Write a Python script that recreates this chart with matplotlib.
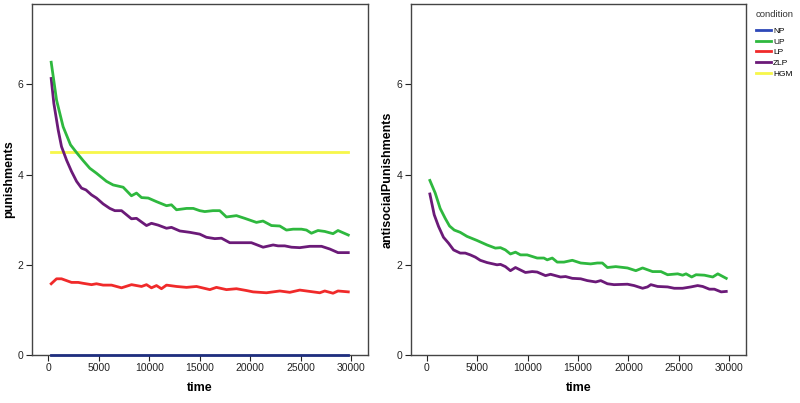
import matplotlib
matplotlib.use("Agg")
import matplotlib.pyplot as plt
from matplotlib.lines import Line2D

plt.rcParams['font.family'] = ['Liberation Sans', 'DejaVu Sans']

# ---- data ----
t_up_l = [300, 830, 1480, 2210, 2800, 3460, 4120, 4780, 5770, 6430, 7420, 8240, 8740, 9240, 9900,
          10720, 11710, 12200, 12700, 13700, 14360, 15000, 15500, 16300, 16980, 17640, 18630, 19450,
          20610, 21260, 22100, 22920, 23580, 24240, 25060, 25560, 26050, 26700, 27360, 28190, 28680, 29700]
up_l = [6.49, 5.65, 5.06, 4.66, 4.49, 4.31, 4.14, 4.03, 3.85, 3.77, 3.72, 3.53, 3.59, 3.49, 3.48,
        3.40, 3.31, 3.33, 3.22, 3.25, 3.25, 3.20, 3.18, 3.20, 3.20, 3.06, 3.09, 3.03,
        2.94, 2.97, 2.87, 2.86, 2.77, 2.79, 2.79, 2.77, 2.70, 2.76, 2.74, 2.69, 2.76, 2.66]

t_zlp_l = [300, 560, 990, 1320, 1820, 2310, 2810, 3300, 3740, 4290, 4780, 5440, 6100, 6600, 7260,
           8240, 8740, 9730, 10220, 10880, 11710, 12200, 13030, 14020, 15000, 15660, 16490, 17150,
           17970, 18960, 20110, 21270, 22260, 22750, 23410, 24080, 24900, 25890, 27050, 27870, 28680, 29700]
zlp_l = [6.13, 5.58, 4.99, 4.62, 4.32, 4.07, 3.85, 3.70, 3.66, 3.55, 3.48, 3.35, 3.25, 3.20, 3.20,
         3.02, 3.03, 2.87, 2.92, 2.88, 2.81, 2.83, 2.75, 2.72, 2.68, 2.61, 2.58, 2.59,
         2.49, 2.49, 2.49, 2.39, 2.44, 2.42, 2.42, 2.39, 2.38, 2.41, 2.41, 2.35, 2.27, 2.27]

t_lp_l = [300, 830, 1320, 2310, 2970, 3460, 4290, 4780, 5440, 6270, 7260, 8250, 9240, 9730, 10220,
          10720, 11210, 11710, 12700, 13690, 14680, 16000, 16650, 17640, 18630, 19620, 20280, 21600,
          22920, 23910, 24900, 25560, 26880, 27370, 28190, 28680, 29700]
lp_l = [1.58, 1.69, 1.69, 1.61, 1.61, 1.59, 1.56, 1.58, 1.55, 1.55, 1.49, 1.56, 1.52, 1.56, 1.49,
        1.54, 1.47, 1.55, 1.52, 1.50, 1.52, 1.45, 1.50, 1.45, 1.47, 1.43, 1.40, 1.38,
        1.42, 1.39, 1.44, 1.42, 1.38, 1.42, 1.37, 1.42, 1.40]

t_flat = [300, 29700]
hgm_l = [4.49, 4.49]
np_l = [0.0, 0.0]

t_up_r = [300, 830, 1320, 1820, 2250, 2720, 3310, 3980, 4970, 5970, 6800, 7300, 7790, 8290, 8790,
          9290, 9950, 10940, 11610, 11940, 12440, 12930, 13600, 14430, 15260, 16250, 16910, 17410,
          17910, 18740, 19900, 20730, 21400, 22390, 23220, 23880, 24880, 25370, 25710, 26270, 26700,
          27530, 28360, 28860, 29700]
up_r = [3.87, 3.59, 3.25, 3.03, 2.86, 2.77, 2.72, 2.63, 2.54, 2.44, 2.37, 2.38, 2.33, 2.24, 2.28,
        2.22, 2.22, 2.15, 2.15, 2.11, 2.15, 2.06, 2.06, 2.10, 2.04, 2.02, 2.04, 2.04,
        1.94, 1.96, 1.93, 1.87, 1.93, 1.85, 1.85, 1.78, 1.80, 1.77, 1.80, 1.73, 1.78,
        1.77, 1.73, 1.80, 1.70]

t_zlp_r = [300, 730, 1160, 1650, 2150, 2650, 3310, 3810, 4310, 4810, 5300, 5970, 6960, 7300, 7790,
           8290, 8790, 9780, 10450, 10940, 11770, 12270, 13260, 13760, 14430, 15260, 15920, 16750,
           17250, 17910, 18570, 19900, 20560, 21400, 21890, 22220, 22890, 23880, 24540, 25370, 26200,
           26860, 27360, 28030, 28520, 29190, 29700]
zlp_r = [3.57, 3.11, 2.85, 2.61, 2.48, 2.33, 2.26, 2.26, 2.22, 2.17, 2.10, 2.05, 2.00, 2.01, 1.96,
         1.87, 1.94, 1.83, 1.85, 1.84, 1.76, 1.79, 1.73, 1.74, 1.70, 1.69, 1.65, 1.62,
         1.65, 1.58, 1.56, 1.57, 1.54, 1.48, 1.51, 1.56, 1.52, 1.51, 1.48, 1.48, 1.51,
         1.54, 1.52, 1.46, 1.46, 1.40, 1.41]

conditions = ['NP', 'UP', 'LP', 'ZLP', 'HGM']
colors = {'NP': '#2d48b8', 'UP': '#2eb83e', 'LP': '#f02a2a', 'ZLP': '#6b1a78', 'HGM': '#f7f74a'}
xticks = [0, 5000, 10000, 15000, 20000, 25000, 30000]
yticks = [0, 2, 4, 6]

fig = plt.figure(figsize=(8, 4.03), dpi=100)
ax1 = fig.add_axes([0.040, 0.119, 0.420, 0.871])
ax2 = fig.add_axes([0.5134, 0.119, 0.419, 0.871])

lw = 2.0
ax1.plot(t_flat, hgm_l, color=colors['HGM'], lw=lw)
ax1.plot(t_lp_l, lp_l, color=colors['LP'], lw=lw)
ax1.plot(t_zlp_l, zlp_l, color=colors['ZLP'], lw=lw)
ax1.plot(t_up_l, up_l, color=colors['UP'], lw=lw)
ax1.plot(t_flat, np_l, color='#1f2f80', lw=lw, clip_on=False, zorder=5)

ax2.plot(t_zlp_r, zlp_r, color=colors['ZLP'], lw=lw)
ax2.plot(t_up_r, up_r, color=colors['UP'], lw=lw)

for ax, ylab in [(ax1, 'punishments'), (ax2, 'antisocialPunishments')]:
    ax.set_xlim(-1600, 31650)
    ax.set_ylim(0, 7.78)
    ax.set_xticks(xticks)
    ax.set_yticks(yticks)
    ax.tick_params(direction='out', length=4, width=0.8, labelsize=7.5, colors='#222222', pad=2)
    for s in ax.spines.values():
        s.set_color('#444444')
        s.set_linewidth(1.0)
    ax.set_xlabel('time', fontsize=9, fontweight='bold', labelpad=6)
    ax.set_ylabel(ylab, fontsize=9, fontweight='bold', labelpad=2)

handles = [Line2D([], [], color=colors[c], lw=2) for c in conditions]
leg = fig.legend(handles, conditions, title='condition', loc='upper left',
                 bbox_to_anchor=(0.945, 0.975), frameon=False, fontsize=6,
                 title_fontsize=6.8, handlelength=1.85, handletextpad=0.2,
                 labelspacing=0.33, borderaxespad=0, borderpad=0)
leg._legend_box.align = 'left'
leg._legend_box.sep = 6
leg.get_title().set_color('#333333')

fig.savefig('out.png', dpi=100)
